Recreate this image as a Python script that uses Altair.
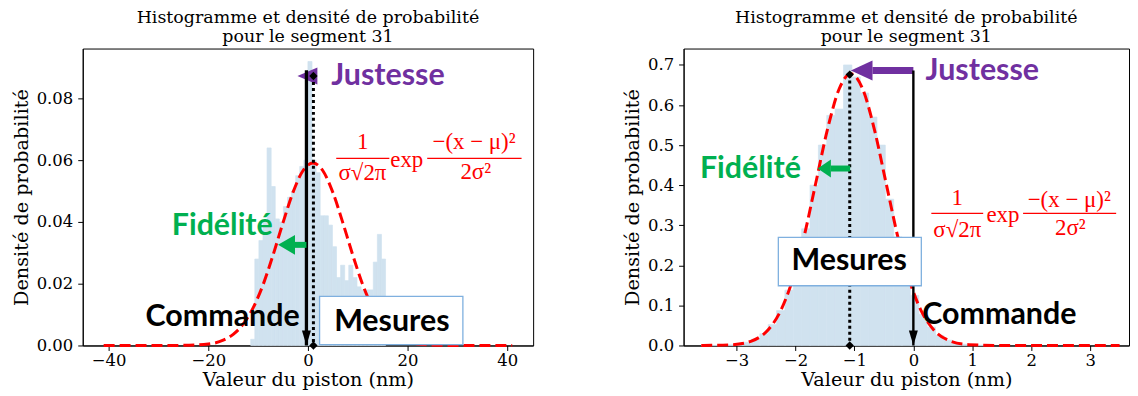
import altair as alt
import pandas as pd

SERIF = "DejaVu Serif"
MATH = "Liberation Serif"
ANNOT = "Lato"
PURPLE = "#7030A0"
GREEN = "#00B050"
RED = "#FF0000"
HIST = "#d0e2ef"
BOXEDGE = "#7fb0df"

TITLE_LINES = ["Histogramme et densité de probabilité", "pour le segment 31"]
X_TITLE = "Valeur du piston (nm)"
Y_TITLE = "Densité de probabilité"

# ---------------- left panel values ----------------
left_bin_first = -11.48
left_bin_width = 0.82
left_density = [0.002, 0.028, 0.034, 0.040, 0.064, 0.0515, 0.041, 0.040, 0.045, 0.048,
                0.050, 0.055, 0.058, 0.060, 0.092, 0.060, 0.056, 0.042, 0.042, 0.039,
                0.032, 0.022, 0.026, 0.021, 0.026, 0.022, 0.019, 0.018, 0.018, 0.018,
                0.027, 0.036, 0.028]
left_curve_x = [-41, -30, -25, -20, -17, -15, -13, -11, -9, -7, -5, -3, -1, 1,
                3, 5, 7, 9, 11, 13, 15, 17, 19, 22, 27, 32, 41]
left_curve_y = [0, 0, 0.00004, 0.00047, 0.0017, 0.0036, 0.0069, 0.0122, 0.0197, 0.0293,
                0.0398, 0.0496, 0.0566, 0.0591, 0.0566, 0.0496, 0.0398, 0.0293, 0.0197,
                0.0122, 0.0069, 0.0036, 0.0017, 0.00047, 0.00004, 0, 0]

# ---------------- right panel values ----------------
right_bin_first = -3.6
right_bin_width = 0.142
right_density = [0.0001, 0.0003, 0.0007, 0.0016, 0.0036, 0.0077, 0.0155, 0.0292, 0.052, 0.087,
                 0.138, 0.206, 0.291, 0.40, 0.50, 0.574, 0.59, 0.70, 0.67, 0.63,
                 0.57, 0.50, 0.365, 0.271, 0.189, 0.125, 0.078, 0.046, 0.025, 0.013,
                 0.0066, 0.0031, 0.0013, 0.0006]
right_curve_x = [-3.6, -3.56, -3.06, -2.76, -2.46, -2.26, -2.06, -1.86, -1.66, -1.46, -1.26,
                 -1.06, -0.86, -0.66, -0.46, -0.26, -0.06, 0.14, 0.34, 0.64, 0.94, 1.44,
                 2.5, 3.5]
right_curve_y = [0, 0.0001, 0.0021, 0.0104, 0.0399, 0.0845, 0.1597, 0.2687, 0.403, 0.538,
                 0.640, 0.678, 0.640, 0.538, 0.403, 0.2687, 0.1597, 0.0845, 0.0399, 0.0104,
                 0.0021, 0.0001, 0, 0]

FORMULA_TEXT = ["1", "σ√2π", "exp", "−(x − μ)²", "2σ²"]
LABELS = ["Justesse", "Fidélité", "Commande", "Mesures"]

left = dict(
    xdom=[-45.2, 45.2], ydom=[0, 0.0962], xticks=[-40, -20, 0, 20, 40],
    yticks=[0, 0.02, 0.04, 0.06, 0.08], yfmt=".2f", width=452,
    bin_first=left_bin_first, bin_width=left_bin_width, density=left_density,
    cx=left_curve_x, cy=left_curve_y,
    cmd_x=-0.3, cmd_top=0.0892, cmd_w=3.3,
    mean_x=1.1, mean_top=0.0873,
    pur_tip=(-2.1, 0.0873), pur_path="M0,0L2,-0.85L2,0.85Z", pur_size=400, pur_shaft=None,
    grn_tip=(-6.0, 0.0326), grn_path="M0,0L1.7,-1L1.7,1Z", grn_size=400, grn_shaft=(-2.66, -0.3),
    lab_x=[4.68, -7.06, -1.66, 16.84], lab_y=[0.0873, 0.0388, 0.0092, 0.0076],
    lab_align=["left", "right", "right", "center"],
    box=(2.34, 31.1, 0.0003, 0.0159),
    fbars=[(5.68, 16.34, 0.0606), (23.94, 42.88, 0.0606)],
    ftx=[11.0, 10.94, 19.84, 33.34, 33.68], fty=[0.066, 0.0558, 0.0601, 0.066, 0.0563],
)
right = dict(
    xdom=[-3.90, 3.66], ydom=[0, 0.741], xticks=[-3, -2, -1, 0, 1, 2, 3],
    yticks=[0, 0.1, 0.2, 0.3, 0.4, 0.5, 0.6, 0.7], yfmt=".1f", width=447,
    bin_first=right_bin_first, bin_width=right_bin_width, density=right_density,
    cx=right_curve_x, cy=right_curve_y,
    cmd_x=0.0, cmd_top=0.686, cmd_w=2.4,
    mean_x=-1.08, mean_top=0.676,
    pur_tip=(-1.061, 0.686), pur_path="M0,0L2.17,-1L2.17,1Z", pur_size=400, pur_shaft=(-0.694, 0.0),
    grn_tip=(-1.625, 0.4416), grn_path="M0,0L1.48,-1L1.48,1Z", grn_size=324, grn_shaft=(-1.40, -1.073),
    lab_x=[0.208, -1.908, 0.152, -1.09], lab_y=[0.684, 0.44, 0.077, 0.2095],
    lab_align=["left", "right", "left", "center"],
    box=(-2.292, 0.135, 0.149, 0.270),
    fbars=[(0.305, 1.185, 0.3298), (1.862, 3.442, 0.3298)],
    ftx=[0.745, 0.745, 1.52, 2.646, 2.663], fty=[0.367, 0.288, 0.3255, 0.3628, 0.2925],
)
LABEL_COLORS = [PURPLE, GREEN, "black", "black"]
HEIGHT = 298


def panel(p):
    def X(f):
        return alt.X(f, type="quantitative",
                     scale=alt.Scale(domain=p["xdom"], nice=False, zero=False),
                     axis=alt.Axis(values=p["xticks"], format="d", title=X_TITLE,
                                   labelPadding=2, titlePadding=2))

    def Y(f):
        return alt.Y(f, type="quantitative",
                     scale=alt.Scale(domain=p["ydom"], nice=False, zero=False),
                     axis=alt.Axis(values=p["yticks"], format=p["yfmt"], title=Y_TITLE))

    n = len(p["density"])
    lo = [p["bin_first"] + i * p["bin_width"] for i in range(n)]
    hist_df = pd.DataFrame({"x": lo, "x2": [v + p["bin_width"] for v in lo],
                            "y": p["density"], "y2": [0] * n})
    layers = []
    layers.append(alt.Chart(hist_df).mark_bar(fill=HIST, stroke=HIST, strokeWidth=0.7, opacity=1)
                  .encode(x=X("x"), x2="x2", y=Y("y"), y2="y2"))
    curve_df = pd.DataFrame({"x": p["cx"], "y": p["cy"]})
    layers.append(alt.Chart(curve_df).mark_line(color=RED, strokeWidth=3, strokeDash=[11, 5],
                                                interpolate="monotone")
                  .encode(x=X("x"), y=Y("y")))
    # purple (Justesse) arrow
    if p["pur_shaft"] is not None:
        sh = pd.DataFrame({"x": [p["pur_shaft"][0]], "x2": [p["pur_shaft"][1]], "y": [p["pur_tip"][1]]})
        layers.append(alt.Chart(sh).mark_rule(color=PURPLE, strokeWidth=7)
                      .encode(x=X("x"), x2="x2", y=Y("y")))
    hd = pd.DataFrame({"x": [p["pur_tip"][0]], "y": [p["pur_tip"][1]]})
    layers.append(alt.Chart(hd).mark_point(shape=p["pur_path"], size=p["pur_size"], filled=True,
                                           color=PURPLE, opacity=1, strokeWidth=0)
                  .encode(x=X("x"), y=Y("y")))
    # dotted mean line
    md = pd.DataFrame({"x": [p["mean_x"]], "y": [p["mean_top"]], "y2": [0]})
    layers.append(alt.Chart(md).mark_rule(color="black", strokeWidth=3, strokeDash=[3, 3])
                  .encode(x=X("x"), y=Y("y"), y2="y2"))
    # solid command arrow
    cd = pd.DataFrame({"x": [p["cmd_x"]], "y": [p["cmd_top"]], "y2": [0]})
    layers.append(alt.Chart(cd).mark_rule(color="black", strokeWidth=p["cmd_w"])
                  .encode(x=X("x"), y=Y("y"), y2="y2"))
    ah = pd.DataFrame({"x": [p["cmd_x"]], "y": [0]})
    layers.append(alt.Chart(ah).mark_point(shape="M0,0L-0.6,-2L0.6,-2Z", size=225, filled=True,
                                           color="black", opacity=1, strokeWidth=0)
                  .encode(x=X("x"), y=Y("y")))
    dm = pd.DataFrame({"x": [p["mean_x"], p["mean_x"]], "y": [p["mean_top"], 0]})
    layers.append(alt.Chart(dm).mark_point(shape="diamond", size=70, filled=True,
                                           color="black", opacity=1, strokeWidth=0)
                  .encode(x=X("x"), y=Y("y")))
    # green (Fidélité) arrow
    gs = pd.DataFrame({"x": [p["grn_shaft"][0]], "x2": [p["grn_shaft"][1]], "y": [p["grn_tip"][1]]})
    layers.append(alt.Chart(gs).mark_rule(color=GREEN, strokeWidth=6)
                  .encode(x=X("x"), x2="x2", y=Y("y")))
    gh = pd.DataFrame({"x": [p["grn_tip"][0]], "y": [p["grn_tip"][1]]})
    layers.append(alt.Chart(gh).mark_point(shape=p["grn_path"], size=p["grn_size"], filled=True,
                                           color=GREEN, opacity=1, strokeWidth=0)
                  .encode(x=X("x"), y=Y("y")))
    # formula
    fb = pd.DataFrame({"x": [b[0] for b in p["fbars"]], "x2": [b[1] for b in p["fbars"]],
                       "y": [b[2] for b in p["fbars"]]})
    layers.append(alt.Chart(fb).mark_rule(color=RED, strokeWidth=1.3)
                  .encode(x=X("x"), x2="x2", y=Y("y")))
    ft = pd.DataFrame({"x": p["ftx"], "y": p["fty"], "t": FORMULA_TEXT})
    layers.append(alt.Chart(ft).mark_text(font=MATH, fontSize=23, color=RED, align="center",
                                          baseline="middle")
                  .encode(x=X("x"), y=Y("y"), text="t:N"))
    # Mesures box
    b = p["box"]
    bx = pd.DataFrame({"x": [b[0]], "x2": [b[1]], "y": [b[2]], "y2": [b[3]]})
    layers.append(alt.Chart(bx).mark_rect(fill="white", stroke=BOXEDGE, strokeWidth=1.3)
                  .encode(x=X("x"), x2="x2", y=Y("y"), y2="y2"))
    # labels
    for i, lab in enumerate(LABELS):
        ld = pd.DataFrame({"x": [p["lab_x"][i]], "y": [p["lab_y"][i]], "t": [lab]})
        layers.append(alt.Chart(ld).mark_text(font=ANNOT, fontSize=30.5, fontWeight="bold",
                                              color=LABEL_COLORS[i], align=p["lab_align"][i],
                                              baseline="middle")
                      .encode(x=X("x"), y=Y("y"), text="t:N"))
    return alt.layer(*layers).properties(
        width=p["width"], height=HEIGHT,
        title=alt.TitleParams(TITLE_LINES, font=SERIF, fontSize=17.5, fontWeight="normal",
                              color="black", anchor="middle", offset=3, lineHeight=19),
    )


chart = alt.hconcat(panel(left), panel(right), spacing=151, bounds="flush").properties(
    padding={"left": 3, "top": 0, "right": 0, "bottom": 0}
).configure_view(stroke="black", strokeWidth=1).configure_axis(
    grid=False, domainColor="black", tickColor="black", labelColor="black", titleColor="black",
    labelFont=SERIF, labelFontSize=16.5, titleFont=SERIF, titleFontSize=19.3, titleFontWeight="normal",
    tickSize=5, labelPadding=5, titlePadding=5, labelFlush=False
)

chart.save("out.html", embed_options={"renderer": "svg", "actions": False})
